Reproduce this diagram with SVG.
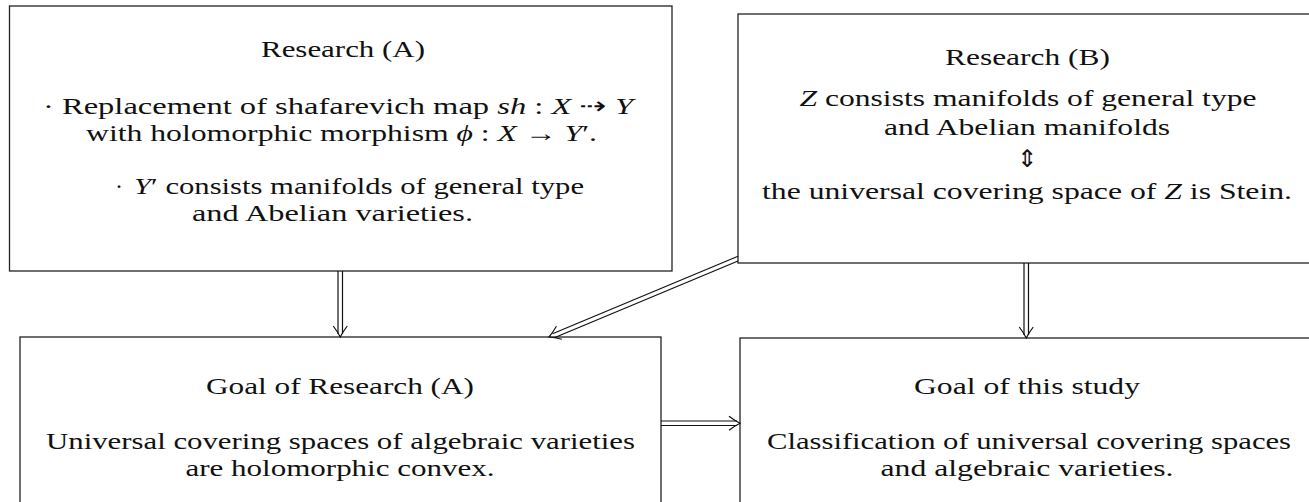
<svg xmlns="http://www.w3.org/2000/svg" width="1309" height="502" viewBox="0 0 1309 502">
<style>
.box{fill:#fff;stroke:#222;stroke-width:1.3}
.t{font-family:"Liberation Serif","Times New Roman",serif;font-size:24px;fill:#111}
.m{font-style:italic}
.sym{font-family:"DejaVu Sans",sans-serif;font-style:normal}
.ln{stroke:#111;stroke-width:1.2;fill:none}
.hd{stroke:#111;stroke-width:1.2;fill:none}
</style>
<defs>
<path id="head" d="M-11,-7 Q-5,-2.5 0,0 Q-5,2.5 -11,7"/>
</defs>
<rect width="1309" height="502" fill="#fff"/>
<g id="researchA">
<rect class="box" x="9.5" y="6" width="662.5" height="265"/>
<text class="t" x="343" y="57" text-anchor="middle" textLength="164" lengthAdjust="spacingAndGlyphs">Research (A)</text>
<text class="t" x="43" y="114" textLength="590" lengthAdjust="spacingAndGlyphs">· Replacement of shafarevich map <tspan class="m">sh</tspan> : <tspan class="m">X</tspan> <tspan class="sym">⇢</tspan> <tspan class="m">Y</tspan></text>
<text class="t" x="86" y="141" textLength="511" lengthAdjust="spacingAndGlyphs">with holomorphic morphism <tspan class="m">ϕ</tspan> : <tspan class="m">X</tspan> → <tspan class="m">Y</tspan>′.</text>
<text class="t" x="115" y="194">·</text>
<text class="t" x="134" y="194" textLength="450" lengthAdjust="spacingAndGlyphs"><tspan class="m">Y</tspan>′ consists manifolds of general type</text>
<text class="t" x="192" y="221" textLength="281" lengthAdjust="spacingAndGlyphs">and Abelian varieties.</text>
</g>
<g id="researchB">
<rect class="box" x="738" y="14" width="600" height="249"/>
<text class="t" x="1027.5" y="65" text-anchor="middle" textLength="165" lengthAdjust="spacingAndGlyphs">Research (B)</text>
<text class="t" x="1028" y="106" text-anchor="middle" textLength="457" lengthAdjust="spacingAndGlyphs"><tspan class="m">Z</tspan> consists manifolds of general type</text>
<text class="t" x="1027" y="135" text-anchor="middle" textLength="286" lengthAdjust="spacingAndGlyphs">and Abelian manifolds</text>
<text class="t sym" x="1027" y="167" text-anchor="middle" font-size="24">⇕</text>
<text class="t" x="1027" y="199" text-anchor="middle" textLength="530" lengthAdjust="spacingAndGlyphs">the universal covering space of <tspan class="m">Z</tspan> is Stein.</text>
</g>
<g id="goalA">
<rect class="box" x="20" y="337" width="641" height="200"/>
<text class="t" x="340" y="394" text-anchor="middle" textLength="268" lengthAdjust="spacingAndGlyphs">Goal of Research (A)</text>
<text class="t" x="340.5" y="449" text-anchor="middle" textLength="589" lengthAdjust="spacingAndGlyphs">Universal covering spaces of algebraic varieties</text>
<text class="t" x="340" y="476" text-anchor="middle" textLength="309" lengthAdjust="spacingAndGlyphs">are holomorphic convex.</text>
</g>
<g id="goalStudy">
<rect class="box" x="740" y="338" width="600" height="200"/>
<text class="t" x="1027" y="394" text-anchor="middle" textLength="226" lengthAdjust="spacingAndGlyphs">Goal of this study</text>
<text class="t" x="1029" y="449" text-anchor="middle" textLength="524" lengthAdjust="spacingAndGlyphs">Classification of universal covering spaces</text>
<text class="t" x="1027" y="476" text-anchor="middle" textLength="293" lengthAdjust="spacingAndGlyphs">and algebraic varieties.</text>
</g>
<g id="connectors">
<line class="ln" x1="338" y1="271" x2="338" y2="334"/>
<line class="ln" x1="342.5" y1="271" x2="342.5" y2="334"/>
<use href="#head" class="hd" transform="translate(340.25,337) rotate(90)"/>
<line class="ln" x1="738" y1="256.3" x2="552.5" y2="333.7"/>
<line class="ln" x1="738" y1="261" x2="554.3" y2="337.7"/>
<use href="#head" class="hd" transform="translate(549,337) rotate(157.3)"/>
<line class="ln" x1="1024" y1="263" x2="1024" y2="335"/>
<line class="ln" x1="1028.5" y1="263" x2="1028.5" y2="335"/>
<use href="#head" class="hd" transform="translate(1026.25,338) rotate(90)"/>
<line class="ln" x1="661" y1="421" x2="737" y2="421"/>
<line class="ln" x1="661" y1="425.5" x2="737" y2="425.5"/>
<use href="#head" class="hd" transform="translate(740,423.25)"/>
</g>
</svg>
